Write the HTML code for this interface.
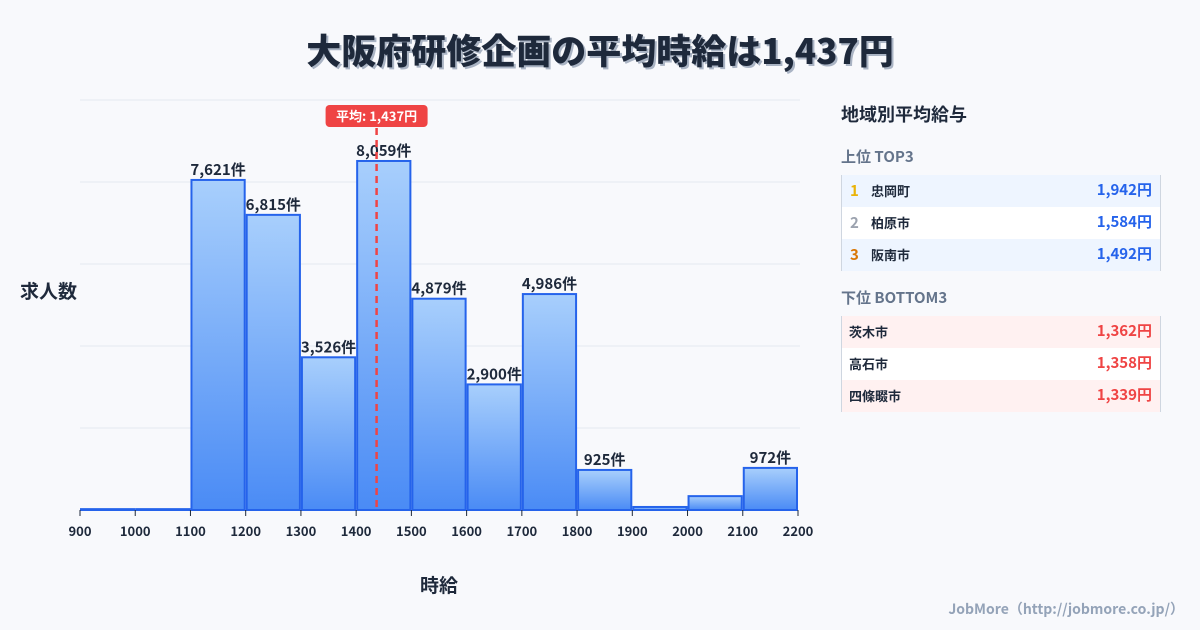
<!DOCTYPE html>
<html><head><meta charset="utf-8">
<style>
body{margin:0;width:1200px;height:630px;background:#f8f9fc;font-family:"Noto Sans CJK JP","Liberation Sans",sans-serif;overflow:hidden;position:relative}
.t{position:absolute;white-space:nowrap;line-height:1.2}
.row{position:absolute;left:841px;width:318px;height:32px;border-left:1px solid #cfd6e0;border-right:1px solid #cfd6e0;font-size:13px;font-weight:700;color:#1e293b}
.row span{position:absolute;top:0;line-height:32px}
.row .v{right:8px;font-size:15px;top:-1px}
</style></head><body>
<div class="t" style="left:0;width:1200px;text-align:center;top:29px;font-size:35px;font-weight:900;color:#1e293b;text-shadow:2px 2px 0 #aab4c4">大阪府研修企画の平均時給は1,437円</div>
<div class="t" style="left:20px;top:280px;font-size:19px;font-weight:700;color:#1e293b">求人数</div>
<div class="t" style="left:420px;top:574px;font-size:19px;font-weight:700;color:#1e293b">時給</div>
<svg id="chart" width="1200" height="630" style="position:absolute;left:0;top:0;font-family:'Noto Sans CJK JP','Liberation Sans',sans-serif">
<defs><linearGradient id="g" x1="0" y1="0" x2="0" y2="1"><stop offset="0" stop-color="#a8cffc"/><stop offset="1" stop-color="#4a8bf5"/></linearGradient></defs>
</svg>
<div class="t" style="left:841px;top:104px;font-size:18px;font-weight:700;color:#1e293b">地域別平均給与</div>
<div class="t" style="left:841px;top:148px;font-size:15px;font-weight:700;color:#64748b">上位 TOP3</div>
<div class="row" style="top:175px;background:#eef5ff"><span style="left:8px;color:#eab308;font-size:15px">1</span><span style="left:29px">忠岡町</span><span class="v" style="color:#2563eb">1,942円</span></div>
<div class="row" style="top:207px;background:#fff"><span style="left:8px;color:#9ca3af;font-size:15px">2</span><span style="left:29px">柏原市</span><span class="v" style="color:#2563eb">1,584円</span></div>
<div class="row" style="top:239px;background:#eef5ff"><span style="left:8px;color:#d97706;font-size:15px">3</span><span style="left:29px">阪南市</span><span class="v" style="color:#2563eb">1,492円</span></div>
<div class="t" style="left:841px;top:289px;font-size:15px;font-weight:700;color:#64748b">下位 BOTTOM3</div>
<div class="row" style="top:316px;background:#fff1f1"><span style="left:7px">茨木市</span><span class="v" style="color:#ef4444">1,362円</span></div>
<div class="row" style="top:348px;background:#fff"><span style="left:7px">高石市</span><span class="v" style="color:#ef4444">1,358円</span></div>
<div class="row" style="top:380px;background:#fff1f1"><span style="left:7px">四條畷市</span><span class="v" style="color:#ef4444">1,339円</span></div>
<div class="t" style="right:16px;top:601px;font-size:14px;font-weight:700;color:#94a3b8">JobMore（http://jobmore.co.jp/）</div>
<script>
const binStarts=[900,1000,1100,1200,1300,1400,1500,1600,1700,1800,1900,2000,2100];
const counts=[20,20,7621,6815,3526,8059,4879,2900,4986,925,70,320,972];
const showLabel=[false,false,true,true,true,true,true,true,true,true,false,false,true];
const xTicks=[900,1000,1100,1200,1300,1400,1500,1600,1700,1800,1900,2000,2100,2200];
const avg=1437;
const NS="http://www.w3.org/2000/svg";
const svg=document.getElementById('chart');
const x=v=>80+(v-900)*(718/1300);
const yMax=9467;
const y=v=>510-v*(410/yMax);
function mk(t,a){const e=document.createElementNS(NS,t);for(const k in a)e.setAttribute(k,a[k]);svg.appendChild(e);return e;}
for(let i=0;i<5;i++){const g=mk('line',{x1:80,x2:800,y1:100+i*82,y2:100+i*82,stroke:'#e5e9f0','stroke-width':1});

}
binStarts.forEach((b,i)=>{
 const x0=x(b)+1,x1=x(b+100)-1,yt=y(counts[i]);
 const r=mk('rect',{x:x0,y:yt,width:x1-x0,height:510-yt,fill:'url(#g)',stroke:'#2563eb','stroke-width':2});
 
 
 if(showLabel[i]){const t=mk('text',{x:(x0+x1)/2,y:yt-5,'text-anchor':'middle','font-size':15,'font-weight':700,fill:'#1e293b'});
 t.textContent=counts[i].toLocaleString('en-US')+'件';
 
 }
});
xTicks.forEach(v=>{
 mk('line',{x1:x(v),x2:x(v),y1:510,y2:516,stroke:'#1e293b','stroke-width':1});
 const t=mk('text',{x:x(v),y:536,'text-anchor':'middle','font-size':13,'font-weight':700,fill:'#1e293b'});
 t.textContent=v;
 
 
});
const al=mk('line',{x1:x(avg),x2:x(avg),y1:128,y2:510,stroke:'#ef4444','stroke-width':2.5,'stroke-dasharray':'7,5'});


const bg=mk('rect',{x:x(avg)-51,y:105,width:102,height:22,rx:4,fill:'#ef4444'});


const at=mk('text',{x:x(avg),y:121,'text-anchor':'middle','font-size':13,'font-weight':700,fill:'#fff'});
at.textContent='平均: '+avg.toLocaleString('en-US')+'円';


</script>
</body></html>
